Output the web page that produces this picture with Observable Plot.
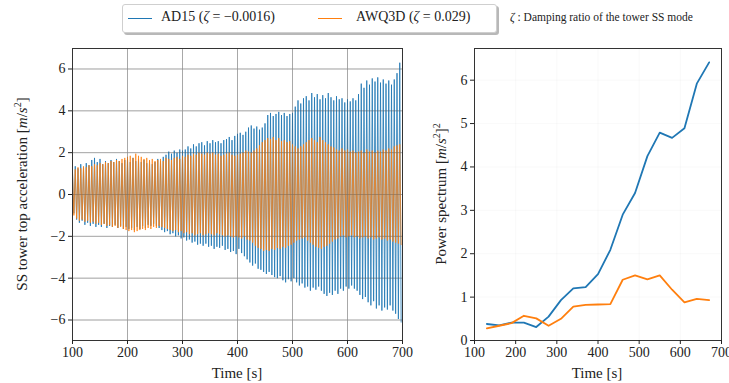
<!DOCTYPE html>
<html><head><meta charset="utf-8">
<script src="https://cdn.jsdelivr.net/npm/d3@7"></script>
<script src="https://cdn.jsdelivr.net/npm/@observablehq/plot@0.6"></script>
<style>
body{margin:0;background:#fff}
#root{position:relative;width:729px;height:383px;overflow:hidden;font-family:"Liberation Serif","DejaVu Serif",serif;color:#222;background:#fff}
#root svg text{font-family:"Liberation Serif","DejaVu Serif",serif !important}
.panel{position:absolute;top:0}
#legend{position:absolute;left:122px;top:4px;width:373px;height:27px;border:1px solid #cfcfcf;border-radius:3px;background:#fff;box-shadow:2px 2px 0 rgba(0,0,0,0.28);font-size:14px}
.sw{position:absolute;top:13px;width:24px;height:0;border-top:1.2px solid}
.lt{position:absolute;top:4px;white-space:nowrap}
#note{position:absolute;left:510px;top:11px;font-size:11.5px;white-space:nowrap}
</style></head>
<body>
<div id="root">
  <div id="left" class="panel" style="left:0"></div>
  <div id="right" class="panel" style="left:420px"></div>
  <div id="legend">
    <div class="sw" style="left:5px;border-color:#1f77b4"></div>
    <div class="lt" style="left:38px">AD15 (<i>ζ</i> = −0.0016)</div>
    <div class="sw" style="left:195px;border-color:#ff7f0e"></div>
    <div class="lt" style="left:233px">AWQ3D (<i>ζ</i> = 0.029)</div>
  </div>
  <div id="note"><i>ζ</i> : Damping ratio of the tower SS mode</div>
</div>
<script>
// ---------- data ----------
const seriesNames = ["AD15", "AWQ3D"];
const colors = ["#1f77b4", "#ff7f0e"];
const xTicks = [100, 200, 300, 400, 500, 600, 700];
const accTicks = [-6, -4, -2, 0, 2, 4, 6];
const psTicks = [0, 1, 2, 3, 4, 5, 6];

// peak times of the oscillation (s): highs at these times, lows half a period later
const peakTimes = d3.range(100, 700, 5);
const halfPeriod = 2.5;

// AD15 oscillation peaks (m/s^2)
const ad15High = [
  1.0, 1.35, 1.25, 1.45, 1.3, 1.5, 1.4, 1.65, 1.75, 1.55,
  1.7, 1.45, 1.6, 1.5, 1.65, 1.55, 1.7, 1.6, 1.5, 1.65,
  1.7, 1.55, 1.75, 1.6, 1.7, 1.55, 1.65, 1.5, 1.6, 1.45,
  1.55, 1.7, 1.6, 1.8, 1.9, 2.05, 1.95, 2.1, 2.0, 2.15,
  2.1, 2.15, 2.3, 2.2, 2.4, 2.3, 2.45, 2.5, 2.35, 2.55,
  2.45, 2.6, 2.5, 2.55, 2.45, 2.6, 2.65, 2.75, 2.6, 2.8,
  2.9, 2.95, 2.85, 3.0, 3.2, 3.3, 3.15, 3.25, 3.1, 3.2,
  3.4, 3.8, 3.9, 3.75, 3.85, 3.95, 3.8, 3.9, 3.75, 3.85,
  3.9, 4.2, 4.5, 4.35, 4.6, 4.7, 4.5, 4.85, 4.65, 4.8,
  4.55, 4.75, 4.6, 4.85, 4.65, 4.5, 4.7, 4.55, 4.6, 4.4,
  4.55, 4.45, 4.6, 4.5, 4.8, 5.3, 5.1, 5.45, 5.25, 5.55,
  5.4, 5.6, 5.35, 5.5, 5.3, 5.45, 5.25, 5.5, 5.8, 6.3
];
const ad15Low = [
  -0.9, -1.2, -1.35, -1.25, -1.45, -1.35, -1.5, -1.4, -1.55, -1.45,
  -1.55, -1.4, -1.6, -1.5, -1.55, -1.45, -1.6, -1.5, -1.65, -1.55,
  -1.65, -1.6, -1.7, -1.55, -1.65, -1.5, -1.6, -1.45, -1.5, -1.4,
  -1.5, -1.6, -1.7, -1.8, -1.75, -1.9, -1.85, -2.0, -1.95, -2.1,
  -2.05, -2.2, -2.15, -2.3, -2.25, -2.4, -2.35, -2.45, -2.35, -2.5,
  -2.45, -2.6, -2.5, -2.55, -2.45, -2.65, -2.6, -2.75, -2.7, -2.85,
  -2.6, -2.8, -2.95, -3.1, -3.25, -3.4, -3.3, -3.55, -3.6, -3.7,
  -3.8, -3.7, -3.85, -3.95, -4.0, -3.9, -4.1, -4.2, -4.05, -4.15,
  -4.0, -4.2, -4.35, -4.25, -4.45, -4.4, -4.6, -4.45, -4.55, -4.4,
  -4.6, -4.75, -4.85, -4.7, -4.8, -4.6, -4.75, -4.5, -4.6, -4.4,
  -4.5, -4.35, -4.5, -4.6, -4.8, -5.0, -4.9, -5.15, -5.3, -5.1,
  -5.45, -5.3, -5.55, -5.4, -5.5, -5.3, -5.55, -5.7, -5.95, -6.1
];
// AWQ3D oscillation peaks (m/s^2)
const awq3dHigh = [
  1.1, 1.2, 1.3, 1.25, 1.35, 1.3, 1.4, 1.35, 1.45, 1.4,
  1.5, 1.45, 1.55, 1.5, 1.6, 1.55, 1.65, 1.6, 1.7, 1.75,
  1.8, 1.85, 1.75, 1.95, 1.85, 1.8, 1.7, 1.75, 1.65, 1.7,
  1.6, 1.65, 1.7, 1.6, 1.75, 1.7, 1.65, 1.75, 1.8, 1.7,
  1.85, 1.8, 1.9, 1.85, 1.95, 1.9, 2.0, 1.95, 1.9, 2.0,
  1.95, 2.0, 1.9, 1.95, 1.85, 1.9, 1.95, 2.0, 1.9, 1.85,
  1.9, 1.95, 2.0, 2.1, 2.05, 2.0, 2.1, 2.2, 2.35, 2.5,
  2.6, 2.7, 2.65, 2.75, 2.6, 2.7, 2.55, 2.6, 2.5, 2.55,
  2.4, 2.3, 2.2, 2.3, 2.4, 2.5, 2.6, 2.7, 2.6, 2.5,
  2.75, 2.6, 2.5, 2.4, 2.3, 2.25, 2.15, 2.1, 2.2, 2.1,
  2.15, 2.05, 2.1, 2.0, 2.05, 2.1, 2.0, 2.15, 2.05, 2.1,
  2.0, 2.1, 2.05, 2.15, 2.1, 2.2, 2.15, 2.3, 2.35, 2.4
];
const awq3dLow = [
  -1.0, -1.15, -1.25, -1.2, -1.3, -1.25, -1.35, -1.3, -1.4, -1.35,
  -1.45, -1.4, -1.5, -1.45, -1.55, -1.5, -1.6, -1.55, -1.65, -1.7,
  -1.75, -1.7, -1.8, -1.75, -1.7, -1.65, -1.7, -1.6, -1.65, -1.55,
  -1.6, -1.5, -1.55, -1.6, -1.65, -1.7, -1.75, -1.7, -1.8, -1.75,
  -1.85, -1.8, -1.9, -1.85, -1.95, -1.9, -1.85, -1.95, -1.9, -1.85,
  -1.9, -1.95, -1.85, -1.9, -1.95, -2.0, -1.95, -2.0, -2.05, -2.0,
  -2.05, -2.1, -2.0, -2.15, -2.2, -2.3, -2.45, -2.55, -2.6, -2.7,
  -2.65, -2.7, -2.6, -2.65, -2.55, -2.6, -2.5, -2.55, -2.45, -2.4,
  -2.3, -2.2, -2.15, -2.1, -2.05, -2.2, -2.3, -2.4, -2.5, -2.55,
  -2.6, -2.5, -2.45, -2.35, -2.25, -2.15, -2.1, -2.0, -1.95, -2.05,
  -2.0, -1.95, -2.05, -2.0, -2.1, -2.05, -2.0, -2.1, -2.05, -2.15,
  -2.1, -2.05, -2.15, -2.1, -2.2, -2.15, -2.25, -2.3, -2.35, -2.4
];

// Power spectrum (m/s^2)^2 over time windows
const psTime = [130, 160, 190, 220, 250, 280, 310, 340, 370, 400, 430, 460, 490, 520, 550, 580, 610, 640, 670];
const psAD15 = [0.38, 0.35, 0.41, 0.41, 0.31, 0.55, 0.93, 1.2, 1.23, 1.53, 2.09, 2.9, 3.4, 4.25, 4.79, 4.67, 4.89, 5.92, 6.41];
const psAWQ3D = [0.28, 0.34, 0.4, 0.57, 0.51, 0.34, 0.5, 0.78, 0.82, 0.83, 0.84, 1.4, 1.5, 1.41, 1.5, 1.17, 0.88, 0.96, 0.93];

// ---------- build tables ----------
function zigzag(high, low, name) {
  const out = [];
  peakTimes.forEach((t, k) => {
    out.push({t, v: high[k], s: name});
    out.push({t: t + halfPeriod, v: low[k], s: name});
  });
  return out;
}
const accAD15 = zigzag(ad15High, ad15Low, seriesNames[0]);
const accAWQ3D = zigzag(awq3dHigh, awq3dLow, seriesNames[1]);
const psRows = psTime.flatMap((t, i) => [
  {t, v: psAD15[i], s: seriesNames[0]},
  {t, v: psAWQ3D[i], s: seriesNames[1]}
]);

const fmt = d => d < 0 ? "\u2212" + Math.abs(d) : String(d);
const serif = "'Liberation Serif', serif";
const baseStyle = {fontFamily: serif, fontSize: "14px", color: "#222", background: "transparent", overflow: "visible"};

const left = Plot.plot({
  width: 422, height: 383,
  marginLeft: 72, marginRight: 20, marginTop: 48, marginBottom: 43,
  style: baseStyle,
  x: {domain: [100, 700]},
  y: {domain: [-6.98, 6.98]},
  marks: [
    Plot.gridX(xTicks, {stroke: "#c4c4c4", strokeOpacity: 1, strokeWidth: 1}),
    Plot.gridY(accTicks, {stroke: "#c4c4c4", strokeOpacity: 1, strokeWidth: 1}),
    Plot.line(accAD15, {x: "t", y: "v", stroke: colors[0], strokeWidth: 0.9, strokeOpacity: 0.9}),
    Plot.line(accAWQ3D, {x: "t", y: "v", stroke: colors[1], strokeWidth: 0.9, strokeOpacity: 0.85}),
    Plot.gridX(xTicks, {stroke: "#555", strokeOpacity: 0.25, strokeWidth: 1}),
    Plot.gridY(accTicks, {stroke: "#555", strokeOpacity: 0.25, strokeWidth: 1}),
    Plot.frame({stroke: "#333"}),
    Plot.axisX(xTicks, {tickSize: 4, tickPadding: 3, label: null, tickFormat: fmt, fontFamily: serif, fontSize: 14}),
    Plot.axisY(accTicks, {tickSize: 4, tickPadding: 3, label: null, tickFormat: fmt, fontFamily: serif, fontSize: 14})
  ]
});

const right = Plot.plot({
  width: 309, height: 383,
  marginLeft: 54, marginRight: 8, marginTop: 48, marginBottom: 43,
  style: baseStyle,
  x: {domain: [100, 700]},
  y: {domain: [0, 6.73]},
  marks: [
    Plot.gridX(xTicks, {stroke: "#c4c4c4", strokeWidth: 1}),
    Plot.gridY(psTicks, {stroke: "#c4c4c4", strokeWidth: 1}),
    Plot.line(psRows.filter(d => d.s === seriesNames[0]), {x: "t", y: "v", stroke: colors[0], strokeWidth: 1.8}),
    Plot.line(psRows.filter(d => d.s === seriesNames[1]), {x: "t", y: "v", stroke: colors[1], strokeWidth: 1.8}),
    Plot.frame({stroke: "#333"}),
    Plot.axisX(xTicks, {tickSize: 4, tickPadding: 3, label: null, tickFormat: fmt, fontFamily: serif, fontSize: 14}),
    Plot.axisY(psTicks, {tickSize: 4, tickPadding: 3, label: null, tickFormat: fmt, fontFamily: serif, fontSize: 14})
  ]
});

document.getElementById("left").appendChild(left);
document.getElementById("right").appendChild(right);

function yLabel(svg, x, y, prefix, outerSup) {
  const t = d3.select(svg).append("text")
    .attr("transform", `translate(${x},${y}) rotate(-90)`)
    .attr("text-anchor", "middle")
    .attr("font-size", 15)
    .attr("fill", "#222");
  t.append("tspan").text(prefix + "[");
  t.append("tspan").attr("font-style", "italic").text("m");
  t.append("tspan").text("/");
  t.append("tspan").attr("font-style", "italic").text("s");
  t.append("tspan").attr("dy", -6).attr("font-size", 10).text("2");
  t.append("tspan").attr("dy", 6).text("]");
  if (outerSup) t.append("tspan").attr("dy", -6).attr("font-size", 10).text("2");
}
function xLabel(svg, x) {
  d3.select(svg).append("text")
    .attr("x", x).attr("y", 378)
    .attr("text-anchor", "middle")
    .attr("font-size", 15)
    .attr("fill", "#222")
    .text("Time [s]");
}
yLabel(left, 27, 194, "SS tower top acceleration ", false);
yLabel(right, 26, 194, "Power spectrum ", true);
xLabel(left, 237);
xLabel(right, 177);
</script>
</body></html>
